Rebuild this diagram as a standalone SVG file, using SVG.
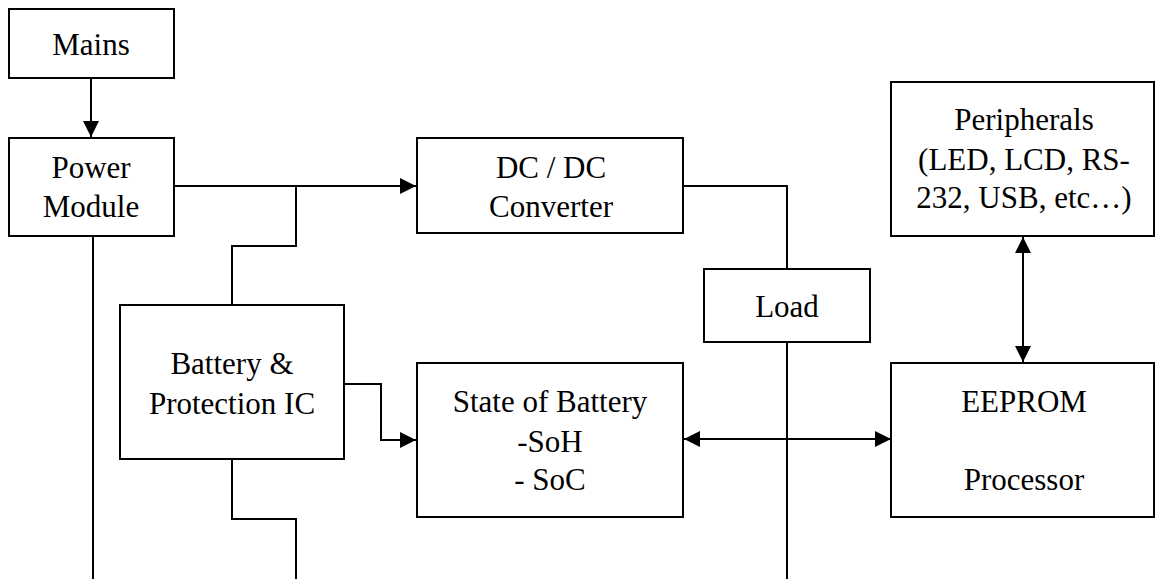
<svg xmlns="http://www.w3.org/2000/svg" width="1156" height="579" viewBox="0 0 1156 579">
<style>
rect.box{fill:#fff;stroke:#000;stroke-width:2}
text{font-family:"Liberation Serif","Times New Roman",serif;font-size:31px;fill:#000;text-anchor:middle}
.conn path{fill:none;stroke:#000;stroke-width:2}
</style>
<defs>
<marker id="arr" markerUnits="userSpaceOnUse" markerWidth="16" markerHeight="16" refX="15" refY="7.5" orient="auto-start-reverse" viewBox="0 0 15 15">
<path d="M0,0 L15,7.5 L0,15 z" fill="#000"/>
</marker>
</defs>
<g class="conn" id="connectors">
<path d="M91,78 V137" marker-end="url(#arr)"/>
<path d="M174,186 H416" marker-end="url(#arr)"/>
<path d="M296,186 V246 H232 V305"/>
<path d="M93,236 V579"/>
<path d="M232,459 V519 H296 V579"/>
<path d="M344,384 H381 V440 H416" marker-end="url(#arr)"/>
<path d="M683,186 H787 V269"/>
<path d="M787,342 V579"/>
<path d="M684,439 H891" marker-start="url(#arr)" marker-end="url(#arr)"/>
<path d="M1023,237 V362" marker-start="url(#arr)" marker-end="url(#arr)"/>
</g>
<g id="mains"><rect class="box" x="9" y="9" width="165" height="69"/><text x="91" y="55">Mains</text></g>
<g id="power"><rect class="box" x="9" y="138" width="165" height="98"/><text x="91" y="178">Power</text><text x="91" y="217">Module</text></g>
<g id="dcdc"><rect class="box" x="417" y="138" width="266" height="95"/><text x="551" y="178">DC / DC</text><text x="551" y="217">Converter</text></g>
<g id="battery"><rect class="box" x="120" y="305" width="224" height="154"/><text x="232" y="374">Battery &amp;</text><text x="232" y="414">Protection IC</text></g>
<g id="state"><rect class="box" x="417" y="363" width="266" height="154"/><text x="550" y="412">State of Battery</text><text x="550" y="452">-SoH</text><text x="550" y="490">- SoC</text></g>
<g id="load"><rect class="box" x="704" y="269" width="166" height="73"/><text x="787" y="317">Load</text></g>
<g id="peripherals"><rect class="box" x="891" y="82" width="263" height="154"/><text x="1024" y="130">Peripherals</text><text x="1024" y="170">(LED, LCD, RS-</text><text x="1024" y="208">232, USB, etc…)</text></g>
<g id="eeprom"><rect class="box" x="891" y="363" width="263" height="154"/><text x="1024" y="412">EEPROM</text><text x="1024" y="490">Processor</text></g>
</svg>
